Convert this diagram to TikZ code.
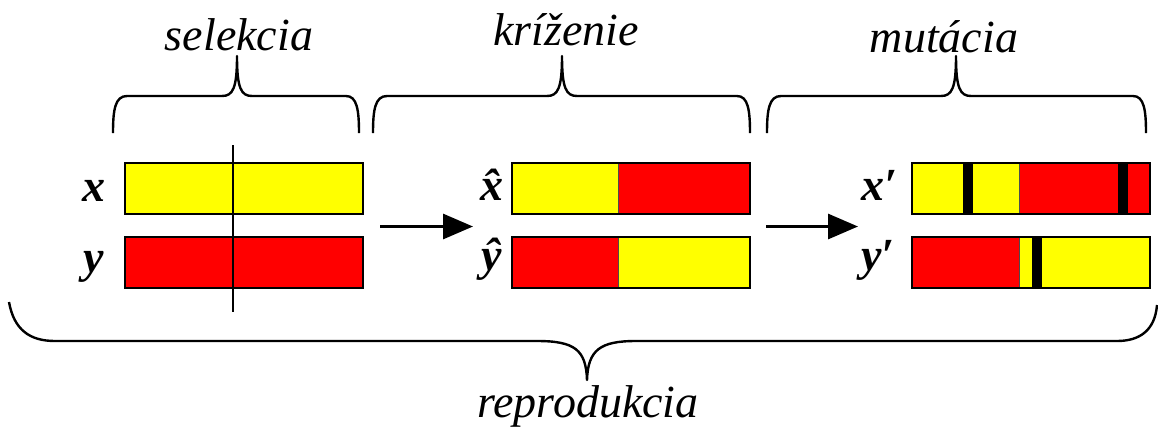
\documentclass[tikz,border=0pt]{standalone}
\usepackage{fontspec}
\setmainfont{Liberation Serif}[
  UprightFont={Liberation Serif},
  ItalicFont={Liberation Serif Italic},
  BoldFont={Liberation Serif Bold},
  BoldItalicFont={Liberation Serif Bold Italic}]
\usetikzlibrary{arrows.meta}
\definecolor{gyellow}{RGB}{255,255,0}
\definecolor{gred}{RGB}{255,0,0}
\tikzset{
  lbl/.style={inner sep=0pt, anchor=base, font=\fontsize{46}{50}\selectfont\itshape},
  vlbl/.style={inner sep=0pt, anchor=base, font=\fontsize{46}{50}\selectfont\bfseries\itshape},
  barbox/.style={draw=black, line width=2pt, minimum width=238pt, minimum height=51pt, inner sep=0pt},
  seg/.style={draw=black!70, line width=0.8pt},
  brace/.style={line width=2.4pt, line join=round},
  flow/.style={line width=3pt, -{Triangle[length=30pt,width=25pt]}}
}
\begin{document}
\begin{tikzpicture}[x=1pt,y=-1pt]
\useasboundingbox (0,0) rectangle (1158,429);
% ---------- bar set 1 (selekcia)
\fill[gyellow] (125,163) rectangle (363,214);
\fill[gred] (125,236) rectangle (363,288);
\node[barbox] (bx) at (244,188.5) {};
\node[barbox] (by) at (244,262) {};
\coordinate (cutT) at (233,145);
\coordinate (cutB) at (233,312);
\draw[line width=2pt] (cutT) -- (cutB);
\node[vlbl] (lx) at (94,201) {x};
\node[vlbl] (ly) at (94,272) {y};
% ---------- bar set 2 (krizenie)
\filldraw[seg, fill=gyellow] (512,163) rectangle (618,214);
\filldraw[seg, fill=gred] (618,163) rectangle (750,214);
\filldraw[seg, fill=gred] (512,236) rectangle (618,288);
\filldraw[seg, fill=gyellow] (618,236) rectangle (750,288);
\node[barbox] (hx) at (631,188.5) {};
\node[barbox] (hy) at (631,262) {};
\node[vlbl] (lhx) at (492,200) {\^{x}};
\node[vlbl] (lhy) at (492,270) {\^{y}};
% ---------- bar set 3 (mutacia)
\filldraw[seg, fill=gyellow] (912,163) rectangle (1019,214);
\filldraw[seg, fill=gred] (1019,163) rectangle (1150,214);
\fill[black] (963,163) rectangle (973,214);
\fill[black] (1118,163) rectangle (1128,214);
\filldraw[seg, fill=gred] (912,236) rectangle (1019,288);
\filldraw[seg, fill=gyellow] (1019,236) rectangle (1150,288);
\fill[black] (1032,236) rectangle (1042,288);
\node[barbox] (mx) at (1031,188.5) {};
\node[barbox] (my) at (1031,262) {};
\node[vlbl, anchor=base west] (lmx) at (861,200) {x′};
\node[vlbl, anchor=base west] (lmy) at (861,270) {y′};
% ---------- arrows
\coordinate (a1s) at (380,226.5);
\coordinate (a1e) at (473,226.5);
\coordinate (a2s) at (766,226.5);
\coordinate (a2e) at (858,226.5);
\draw[flow] (a1s) -- (a1e);
\draw[flow] (a2s) -- (a2e);
% ---------- top braces
\draw[brace] (113,133) .. controls (113,110) and (115,96) .. (127,96) -- (222,96)
  .. controls (233,96) and (237,88) .. (237,56)
  .. controls (237,88) and (241,96) .. (252,96) -- (346,96)
  .. controls (357,96) and (359,110) .. (359,133);
\draw[brace] (373,133) .. controls (373,110) and (375,96) .. (387,96) -- (547,96)
  .. controls (558,96) and (562,88) .. (562,56)
  .. controls (562,88) and (566,96) .. (577,96) -- (737,96)
  .. controls (748,96) and (750,110) .. (750,133);
\draw[brace] (767,133) .. controls (767,110) and (769,96) .. (781,96) -- (941,96)
  .. controls (952,96) and (956,88) .. (956,56)
  .. controls (956,88) and (960,96) .. (971,96) -- (1133,96)
  .. controls (1144,96) and (1146,110) .. (1146,133);
\node[lbl] (tsel) at (239,50) {selekcia};
\node[lbl] (tkri) at (566,45) {kríženie};
\node[lbl] (tmut) at (944,52) {mutácia};
% ---------- bottom brace
\draw[brace] (9,302) .. controls (14,330) and (30,341) .. (55,341) -- (537,341)
  .. controls (575,341) and (586,350) .. (587,380)
  .. controls (588,350) and (600,341) .. (636,341) -- (1117,341)
  .. controls (1140,341) and (1155,330) .. (1157,305);
\node[lbl] (trep) at (588,417) {reprodukcia};
\end{tikzpicture}
\end{document}
